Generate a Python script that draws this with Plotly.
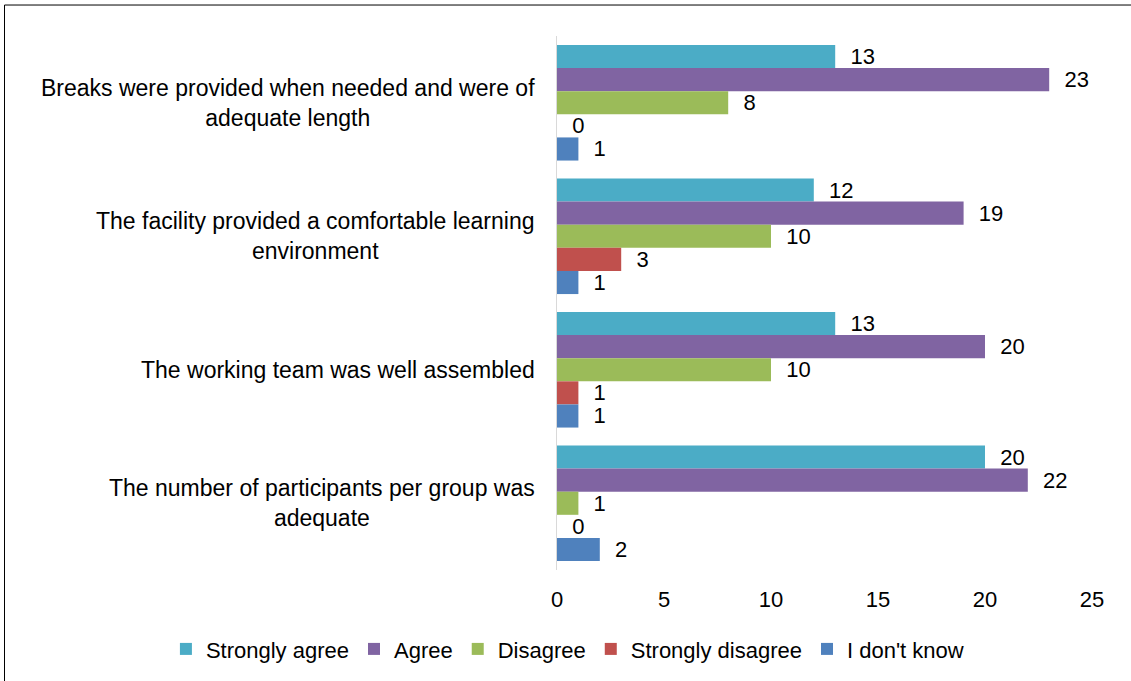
import plotly.graph_objects as go

categories = [
    "Breaks were provided when needed and were of<br>adequate length",
    "The facility provided a comfortable learning<br>environment",
    "The working team was well assembled",
    "The number of participants per group was<br>adequate",
]
series_names = ["Strongly agree", "Agree", "Disagree", "Strongly disagree", "I don't know"]
strongly_agree = [13, 12, 13, 20]
agree = [23, 19, 20, 22]
disagree = [8, 10, 10, 1]
strongly_disagree = [0, 3, 1, 0]
dont_know = [1, 1, 1, 2]
colors = ["#4BACC6", "#8064A2", "#9BBB59", "#C0504D", "#4F81BD"]
x_ticks = [0, 5, 10, 15, 20, 25]

values = [strongly_agree, agree, disagree, strongly_disagree, dont_know]
FONT = "Liberation Sans, Arial"

fig = go.Figure()
for name, vals, col in zip(series_names, values, colors):
    fig.add_trace(go.Bar(
        y=categories, x=vals, name=name, orientation="h",
        marker=dict(color=col, line=dict(width=0)),
        text=vals, textposition="outside", texttemplate="  %{x}",
        textfont=dict(size=22, color="#000000", family=FONT),
        constraintext="none", cliponaxis=False,
    ))

for cat in categories:
    fig.add_annotation(
        x=0, xref="paper", y=cat, yref="y", text=cat, showarrow=False,
        xanchor="right", xshift=-20, align="center",
        font=dict(size=23, color="#000000", family=FONT),
    )

fig.add_shape(type="rect", xref="paper", yref="paper",
              x0=-1.0327, x1=1.2, y0=-0.4, y1=1.058,
              line=dict(color="#000000", width=1), fillcolor="rgba(0,0,0,0)", layer="below")

fig.update_layout(
    width=1131, height=681,
    margin=dict(l=557, r=39, t=36, b=110),
    paper_bgcolor="#FFFFFF", plot_bgcolor="#FFFFFF",
    barmode="group", bargap=0.134, bargroupgap=0,
    font=dict(family=FONT, size=22, color="#000000"),
    xaxis=dict(range=[0, 25], tickvals=x_ticks, showgrid=False, zeroline=False,
               showline=False, ticks="", tickfont=dict(size=22), ticklabelstandoff=14),
    yaxis=dict(autorange="reversed", showticklabels=False, showgrid=False,
               showline=True, linecolor="#D9D9D9", linewidth=1, ticks="", zeroline=False),
    legend=dict(orientation="h", x=-0.731, xanchor="left",
                y=-0.146, yanchor="middle",
                font=dict(size=22), traceorder="normal", itemwidth=30),
    showlegend=True,
)

fig.write_html("out.html", post_script="document.body.style.margin='0';",
               config={"displayModeBar": False})
